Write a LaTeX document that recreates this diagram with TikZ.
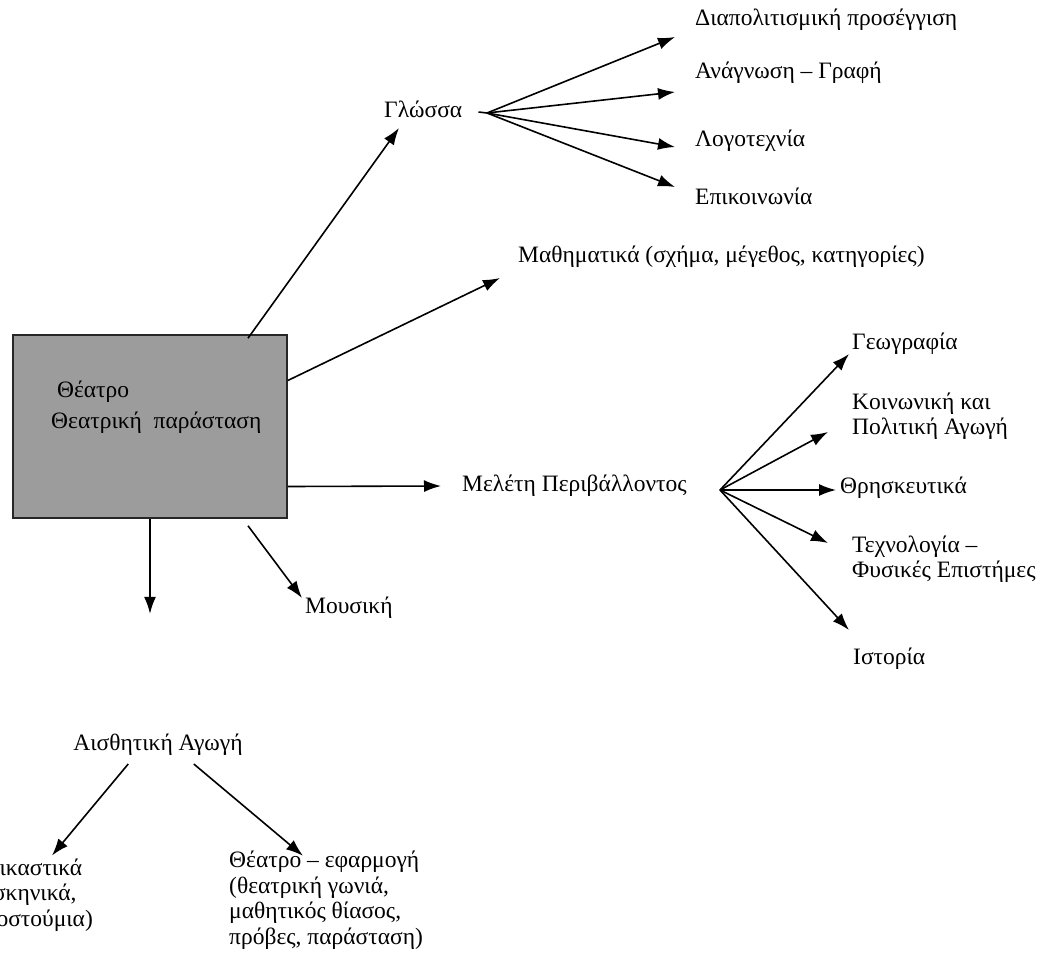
\documentclass[tikz,border=0pt]{standalone}
\usepackage{fontspec}
\setmainfont{Liberation Serif}
\usetikzlibrary{arrows.meta}
\definecolor{boxgray}{RGB}{156,156,156}

\begin{document}
\begin{tikzpicture}[x=1pt,y=-1pt,
  lbl/.style={anchor=west,inner sep=0pt,align=left,font=\fontsize{23.5}{25.5}\selectfont},
  arr/.style={line width=1.6pt,-{Latex[length=17pt,width=12pt]}}]
\useasboundingbox (0,0) rectangle (1041,964);
\node[draw=black!85,line width=1.6pt,fill=boxgray,minimum width=274pt,minimum height=183pt,inner sep=0pt] (theatre) at (150,426.5) {};
\node[lbl,font=\fontsize{23.5}{31}\selectfont] (theatretxt) at (51,407) {\ Θέατρο\\Θεατρική\ \ παράσταση};
% first level
\node[lbl] (gloss) at (384,109) {Γλώσσα};
\node[lbl] (math) at (518,257) {Μαθηματικά (σχήμα, μέγεθος, κατηγορίες)};
\node[lbl] (meleti) at (462,486) {Μελέτη Περιβάλλοντος};
\node[lbl] (mous) at (305,608) {Μουσική};
\node[lbl,anchor=center] (aisth) at (158,745) {Αισθητική Αγωγή};
% second level
\node[lbl] (diap) at (695,20) {Διαπολιτισμική προσέγγιση};
\node[lbl] (anag) at (695,73) {Ανάγνωση – Γραφή};
\node[lbl] (logo) at (695,141) {Λογοτεχνία};
\node[lbl] (epik) at (695,196) {Επικοινωνία};
\node[lbl] (geo) at (852,344) {Γεωγραφία};
\node[lbl] (koin) at (852,416) {Κοινωνική και\\Πολιτική Αγωγή};
\node[lbl] (thri) at (840,488) {Θρησκευτικά};
\node[lbl] (tech) at (852,559) {Τεχνολογία –\\Φυσικές Επιστήμες};
\node[lbl] (isto) at (853,659) {Ιστορία};
\node[lbl] (eik) at (-15,895) {Εικαστικά\\(σκηνικά,\\κοστούμια)};
\node[lbl] (theapp) at (229,900) {Θέατρο – εφαρμογή\\(θεατρική γωνιά,\\μαθητικός θίασος,\\πρόβες, παράσταση)};
\coordinate (gfan) at (487,113);
\coordinate (mfan) at (720,490);

\draw[arr] ([xshift=98pt,yshift=-4pt]theatre.north) -- ([xshift=15pt,yshift=-19pt]gloss.west);
\draw[arr] ([yshift=46pt]theatre.east) -- ([xshift=-18pt,yshift=-21pt]math.west);
\draw[arr] ([yshift=-60pt]theatre.east) -- ([xshift=-21pt]meleti.west);
\draw[arr] (theatre.south) -- ++(0,95);
\draw[arr] ([xshift=98pt,yshift=-7pt]theatre.south) -- ([xshift=-3pt,yshift=10pt]mous.west);

\draw[line width=1.6pt] (gloss.east) ++(16,3) -- (gfan);
\foreach \n/\dx/\dy in {diap/-20/-17, anag/-20/-19, logo/-20/-6, epik/-20/9}
  \draw[arr] (gfan) -- ([xshift=\dx pt,yshift=\dy pt]\n.west);
\foreach \n/\dx/\dy in {geo/-3/-10, koin/-24/-16, thri/-4/-2, tech/-24/16, isto/-4/29}
  \draw[arr] (mfan) -- ([xshift=\dx pt,yshift=\dy pt]\n.west);

\draw[arr] ([xshift=55pt,yshift=-8pt]aisth.south west) -- ([xshift=67pt,yshift=3pt]eik.north west);
\draw[arr] ([xshift=-49pt,yshift=-8pt]aisth.south east) -- ([xshift=74pt,yshift=-5pt]theapp.north west);
\end{tikzpicture}
\end{document}
